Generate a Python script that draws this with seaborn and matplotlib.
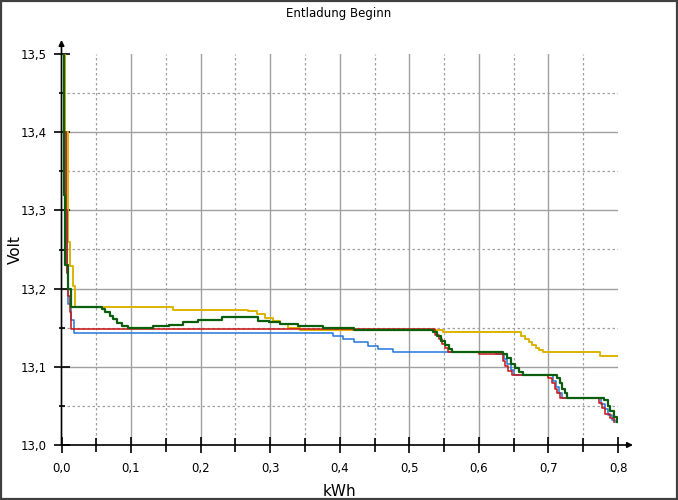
import numpy as np
import pandas as pd
import seaborn as sns
import matplotlib.pyplot as plt
from matplotlib.patches import Rectangle
from matplotlib.ticker import FuncFormatter, MultipleLocator

blau_kwh = [0.000, 0.004, 0.006, 0.008, 0.010, 0.013, 0.018, 0.390, 0.405, 0.420,
            0.440, 0.455, 0.476, 0.625, 0.636, 0.641, 0.646, 0.651, 0.707, 0.711,
            0.715, 0.720, 0.776, 0.781, 0.786, 0.791, 0.796]
blau_volt = [13.500, 13.400, 13.300, 13.220, 13.180, 13.160, 13.143, 13.140, 13.136, 13.132,
             13.127, 13.123, 13.119, 13.116, 13.110, 13.103, 13.096, 13.090, 13.082, 13.074,
             13.067, 13.060, 13.053, 13.046, 13.039, 13.032, 13.030]

rot_kwh = [0.000, 0.004, 0.006, 0.008, 0.010, 0.012, 0.014, 0.537, 0.542, 0.547,
           0.551, 0.555, 0.600, 0.634, 0.638, 0.642, 0.647, 0.700, 0.705, 0.709,
           0.713, 0.716, 0.772, 0.777, 0.782, 0.788, 0.794]
rot_volt = [13.500, 13.400, 13.300, 13.220, 13.190, 13.170, 13.148, 13.141, 13.135, 13.129,
            13.124, 13.119, 13.116, 13.108, 13.101, 13.095, 13.090, 13.086, 13.079, 13.072,
            13.066, 13.060, 13.054, 13.047, 13.040, 13.034, 13.030]

gruen_kwh = [0.000, 0.003, 0.005, 0.010, 0.014, 0.058, 0.0625, 0.0697, 0.0745, 0.0793,
             0.0865, 0.096, 0.131, 0.155, 0.175, 0.196, 0.231, 0.283, 0.298, 0.314,
             0.340, 0.376, 0.420, 0.534, 0.540, 0.546, 0.551, 0.557, 0.562, 0.634,
             0.640, 0.646, 0.652, 0.658, 0.663, 0.713, 0.717, 0.720, 0.724, 0.727,
             0.780, 0.785, 0.789, 0.794, 0.798]
gruen_volt = [13.500, 13.320, 13.230, 13.200, 13.176, 13.174, 13.170, 13.165, 13.161, 13.156,
              13.152, 13.149, 13.152, 13.154, 13.157, 13.160, 13.164, 13.159, 13.157, 13.155,
              13.152, 13.149, 13.147, 13.144, 13.139, 13.133, 13.128, 13.123, 13.119, 13.117,
              13.111, 13.104, 13.098, 13.093, 13.090, 13.086, 13.079, 13.072, 13.066, 13.060,
              13.057, 13.050, 13.043, 13.036, 13.030]

gelb_kwh = [0.000, 0.003, 0.005, 0.009, 0.012, 0.017, 0.020, 0.160, 0.268, 0.281,
            0.292, 0.304, 0.314, 0.325, 0.343, 0.548, 0.661, 0.667, 0.672, 0.677,
            0.682, 0.687, 0.692, 0.774, 0.798]
gelb_volt = [13.500, 13.500, 13.400, 13.259, 13.229, 13.203, 13.176, 13.173, 13.171, 13.167,
             13.163, 13.159, 13.155, 13.150, 13.147, 13.144, 13.140, 13.136, 13.132, 13.128,
             13.124, 13.121, 13.119, 13.114, 13.114]

x_ticks = [0.0, 0.1, 0.2, 0.3, 0.4, 0.5, 0.6, 0.7, 0.8]
y_ticks = [13.0, 13.1, 13.2, 13.3, 13.4, 13.5]

serien = [
    (gelb_kwh, gelb_volt, '#DDB300', 1.4),
    (blau_kwh, blau_volt, '#2277DD', 1.1),
    (rot_kwh, rot_volt, '#C81414', 1.1),
    (gruen_kwh, gruen_volt, '#0B5E0B', 1.6),
]

plt.rcParams['font.family'] = ['DejaVu Sans']

fig = plt.figure(figsize=(6.78, 5.0), dpi=100)
ax = fig.add_axes([61.5 / 678, 55 / 500, (618 - 61.5) / 678, (446 - 55) / 500])

# Gitter (durchgezogen bei 0,1 bzw. 0,1 V; gepunktet dazwischen)
for xv in np.arange(0.05, 0.8, 0.05):
    major = abs(xv * 10 - round(xv * 10)) < 1e-6
    ax.axvline(xv, color='#A0A0A0', lw=1.0 if major else 0.9,
               ls='-' if major else (0, (2, 2)), zorder=0)
for yv in np.arange(13.05, 13.5, 0.05):
    major = abs(yv * 10 - round(yv * 10)) < 1e-6
    ax.axhline(yv, color='#A0A0A0', lw=1.0 if major else 0.9,
               ls='-' if major else (0, (2, 2)), zorder=0)

for kwh, volt, farbe, lw in serien:
    df = pd.DataFrame({'kWh': kwh, 'Volt': volt})
    sns.lineplot(data=df, x='kWh', y='Volt', ax=ax, color=farbe, lw=lw,
                 drawstyle='steps-post', estimator=None, sort=False)

ax.set_xlim(0, 0.8)
ax.set_ylim(13.0, 13.5)

for s in ['top', 'right', 'left', 'bottom']:
    ax.spines[s].set_visible(False)

# Achsen mit Pfeilspitzen
ax.annotate('', xy=(0, 1.036), xytext=(0, 0), xycoords='axes fraction',
            arrowprops=dict(arrowstyle='-|>', color='black', lw=1.2, mutation_scale=8,
                            shrinkA=0, shrinkB=0), annotation_clip=False)
ax.annotate('', xy=(1.027, 0), xytext=(0, 0), xycoords='axes fraction',
            arrowprops=dict(arrowstyle='-|>', color='black', lw=1.2, mutation_scale=8,
                            shrinkA=0, shrinkB=0), annotation_clip=False)

komma = FuncFormatter(lambda v, p: f'{v:.1f}'.replace('.', ','))
ax.set_xticks(x_ticks)
ax.set_yticks(y_ticks)
ax.xaxis.set_major_formatter(komma)
ax.yaxis.set_major_formatter(komma)
ax.xaxis.set_minor_locator(MultipleLocator(0.05))
ax.yaxis.set_minor_locator(MultipleLocator(0.05))
ax.tick_params(axis='both', which='major', direction='inout', length=11, width=1.2,
               color='black', labelsize=8.5, labelcolor='black')
ax.tick_params(axis='x', which='minor', direction='inout', length=10, width=1.2, color='black')
ax.tick_params(axis='y', which='minor', direction='inout', length=5, width=1.2, color='black')
ax.tick_params(axis='x', which='major', pad=7)
ax.tick_params(axis='y', which='major', pad=5)

ax.set_xlabel('kWh', fontsize=11)
ax.set_ylabel('Volt', fontsize=11)
ax.xaxis.set_label_coords(0.5, -0.1)
ax.yaxis.set_label_coords(-0.07, 0.5)

fig.text(0.5, 1 - 14 / 500, 'Entladung Beginn', ha='center', va='center', fontsize=8.5)

# Rahmen um das ganze Bild
fig.patches.append(Rectangle((0.0015, 0.002), 0.997, 0.996, transform=fig.transFigure,
                             fill=False, edgecolor='#404040', lw=1.6))

fig.savefig('out.png', dpi=100)
